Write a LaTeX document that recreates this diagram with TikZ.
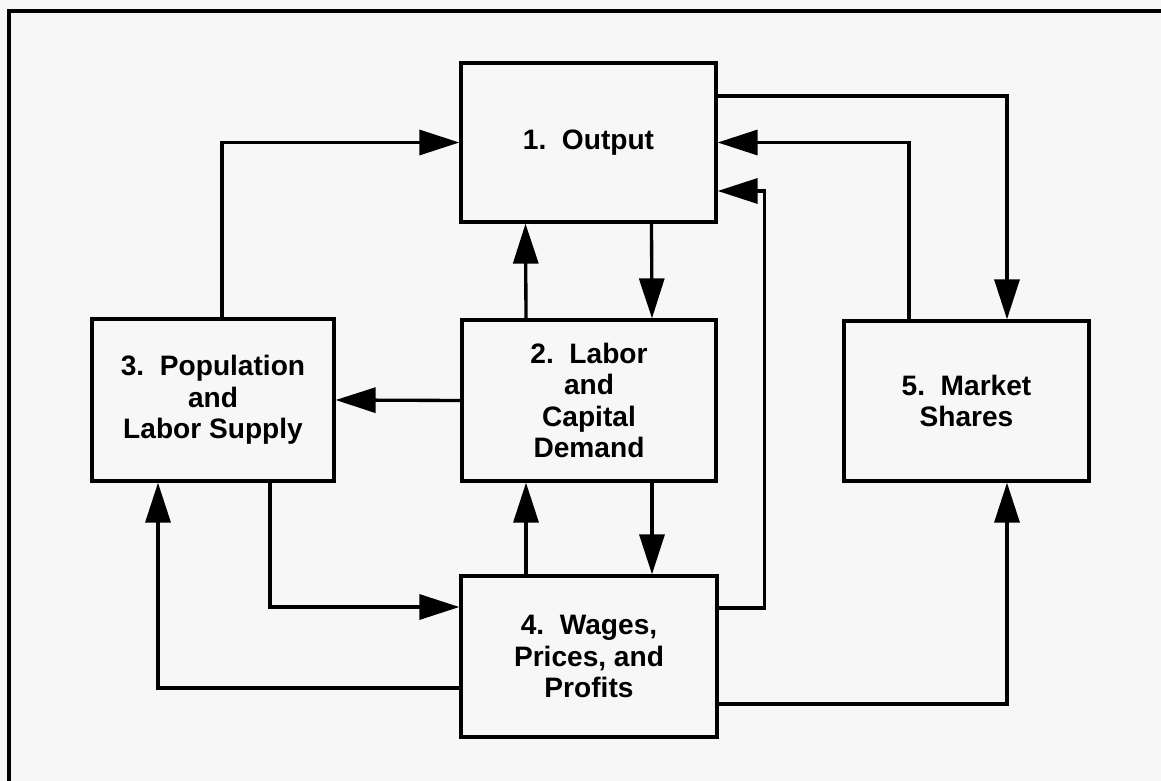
\documentclass[tikz,border=0pt]{standalone}
\usepackage{fontspec}
\setmainfont{Liberation Sans}
\usepackage{tikz}
\usetikzlibrary{positioning, arrows.meta, calc}
\definecolor{paper}{RGB}{247,247,247}

\begin{document}
\begin{tikzpicture}[x=0.02cm, y=-0.02cm,
    box/.style={draw, line width=1.9pt, align=center, inner sep=0pt,
                font=\fontsize{16}{18}\selectfont\bfseries},
    flow/.style={line width=1.9pt, -{Triangle[length=8mm, width=5mm]}}]

    % === FOND ET CADRE ===
    \fill[paper] (0,0) rectangle (1161,781);
    \useasboundingbox (0,0) rectangle (1161,781);
    \draw[line width=1.9pt] (9,781) -- (9,11) -- (1161,11);

    % === MODULES ===
    \node[box, minimum width=5.1cm, minimum height=3.18cm] (output) at (588.5,142.5) {1.\ \ Output};
    \node[box, minimum width=5.08cm, minimum height=3.22cm] (demand) at (589,400.5) {2.\ \ Labor\\and\\Capital\\Demand};
    \node[box, minimum width=4.84cm, minimum height=3.24cm] (population) at (213,400) {3.\ \ Population\\and\\Labor Supply};
    \node[box, minimum width=5.12cm, minimum height=3.22cm] (wages) at (589,656.5) {4.\ \ Wages,\\Prices, and\\Profits};
    \node[box, minimum width=4.9cm, minimum height=3.2cm] (shares) at (966.5,401) {5.\ \ Market\\Shares};

    % Liens verticaux au centre
    \draw[flow] ([xshift=-1.26cm]demand.north) -- ([xshift=-1.26cm]output.south);
    \draw[flow] ([xshift=1.26cm]output.south) -- ([xshift=1.26cm]demand.north);
    \draw[flow] ([xshift=-1.26cm]wages.north) -- ([xshift=-1.26cm]demand.south);
    \draw[flow] ([xshift=1.26cm]demand.south) -- ([xshift=1.26cm]wages.north);

    % Liens vers la population
    \draw[flow] (demand.west) -- (population.west -| population.east);
    \draw[flow] ([xshift=0.18cm]population.north) |- (output.west);
    \draw[flow] ([xshift=1.14cm]population.south) |- ([yshift=0.99cm]wages.west);
    \draw[flow] ([yshift=-0.63cm]wages.west) -| ([xshift=-1.1cm]population.south);

    % Liens vers les parts de marché
    \draw[flow] ([yshift=0.93cm]output.east) -| ([xshift=0.81cm]shares.north);
    \draw[flow] ([xshift=-1.15cm]shares.north) |- (output.east);
    \draw[flow] ([yshift=-0.95cm]wages.east) -| ([xshift=0.81cm]shares.south);

    % Retour des salaires vers la production
    \draw[flow] ([yshift=0.97cm]wages.east) -- ++(46,0) |- ([yshift=-0.97cm]output.east);

\end{tikzpicture}
\end{document}
